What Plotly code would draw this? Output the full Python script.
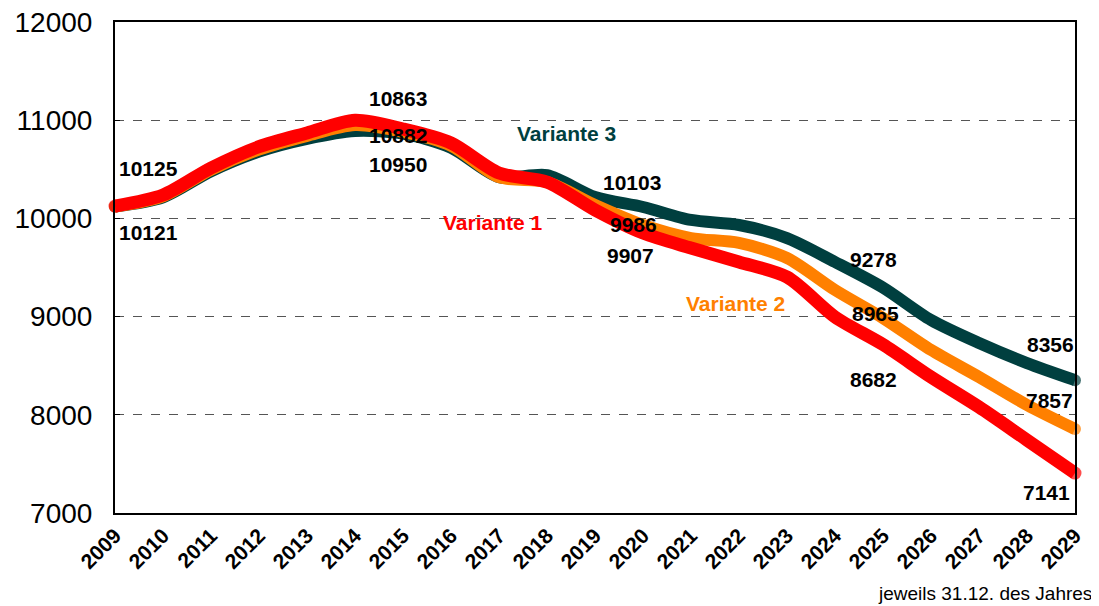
import plotly.graph_objects as go

years = list(range(2009, 2030))

variante_1 = [10126, 10238, 10513, 10730, 10870, 11000, 10910, 10768, 10462, 10370,
              10086, 9851, 9698, 9556, 9403, 8996, 8715, 8385, 8079, 7743, 7407]
variante_2 = [10121, 10225, 10495, 10700, 10840, 10950, 10880, 10740, 10420, 10370,
              10136, 9933, 9800, 9750, 9597, 9271, 8985, 8660, 8385, 8100, 7855]
variante_3 = [10121, 10215, 10480, 10680, 10810, 10890, 10863, 10720, 10420, 10440,
              10218, 10116, 9984, 9933, 9800, 9556, 9295, 8965, 8731, 8527, 8353]

y_ticks = [7000, 8000, 9000, 10000, 11000, 12000]
x_ticks = years

# value labels: (text, series, year, xshift, yshift)
value_labels = [
    ("10125", "v1", 2009, 33, 38), ("10121", "v1", 2009, 33, -26),
    ("10863", "v1", 2015, -5, 31), ("10882", "v1", 2015, -5, -6), ("10950", "v1", 2015, -5, -35),
    ("10103", "v3", 2020, -11, 25), ("9986", "v2", 2020, -10, 0), ("9907", "v1", 2020, -13, -22),
    ("9278", "v3", 2025, -10, 28), ("8965", "v2", 2025, -8, 5), ("8682", "v1", 2025, -10, -35),
    ("8356", "v3", 2029, -25, 36), ("7857", "v2", 2029, -26, 29), ("7141", "v1", 2029, -29, -19),
]

RED = "#FF0000"
ORANGE = "#FF8000"
TEAL = "#003F3F"
FONT = "Liberation Sans, Arial, sans-serif"

series = {"v1": variante_1, "v2": variante_2, "v3": variante_3}

# the page body adds an 8px offset; compensate so the plot lands where the reference has it
OFF = 8
W, H = 1099 - OFF, 606 - OFF
# plot area in page pixels (for placing free text)
L, R, T, B = 115, 1075, 22, 513


def px_to_paper(px, py):
    return (px - L) / (R - L), (B - py) / (B - T)


fig = go.Figure()
for key, name, color, w in [("v3", "Variante 3", TEAL, 12), ("v2", "Variante 2", ORANGE, 12),
                            ("v1", "Variante 1", RED, 13)]:
    vals = series[key]
    sizes = [w] + [0] * (len(vals) - 2) + [w]
    fig.add_trace(go.Scatter(
        x=years, y=vals, name=name, mode="lines+markers",
        line=dict(color=color, width=w, shape="spline", smoothing=0.8),
        marker=dict(size=sizes, color=color, line=dict(width=0)),
        cliponaxis=False, showlegend=False, hoverinfo="x+y",
    ))

annotations = []
for text, key, yr, dx, dy in value_labels:
    annotations.append(dict(
        x=yr, y=series[key][years.index(yr)], xref="x", yref="y",
        text=text, showarrow=False, xshift=dx, yshift=dy,
        font=dict(family=FONT, size=21, color="black", weight="bold"),
        xanchor="center", yanchor="middle",
    ))

for text, color, xp, yp in [("Variante 3", TEAL, 566, 134), ("Variante 1", RED, 493, 222),
                            ("Variante 2", ORANGE, 735, 303)]:
    px, py = px_to_paper(xp, yp)
    annotations.append(dict(
        x=px, y=py, xref="paper", yref="paper", text=text, showarrow=False,
        font=dict(family=FONT, size=21, color=color, weight="bold"),
        xanchor="center", yanchor="middle",
    ))

fx, fy = px_to_paper(1094, 593)
annotations.append(dict(
    x=fx, y=fy, xref="paper", yref="paper", text="jeweils 31.12. des Jahres", showarrow=False,
    xanchor="right", yanchor="middle",
    font=dict(family=FONT, size=19, color="black"),
))

fig.update_layout(
    width=W, height=H,
    margin=dict(l=L - OFF, r=W - (R - OFF), t=T - OFF, b=H - (B - OFF), autoexpand=False),
    paper_bgcolor="white", plot_bgcolor="white",
    annotations=annotations,
    xaxis=dict(
        range=[2009, 2029], tickvals=x_ticks, ticktext=[str(y) for y in x_ticks],
        tickangle=-45, showgrid=False, zeroline=False, automargin=False,
        showline=True, linecolor="black", linewidth=2, mirror=True,
        ticks="", ticklabeloverflow="allow",
        tickfont=dict(family=FONT, size=21, color="black", weight="bold"),
    ),
    yaxis=dict(
        range=[7000, 12000], tickvals=y_ticks, ticktext=[str(v) for v in y_ticks],
        showgrid=True, gridcolor="#555555", automargin=False,
        griddash="dash", gridwidth=1, zeroline=False,
        showline=True, linecolor="black", linewidth=2, mirror=True,
        ticks="inside", ticklen=5, tickcolor="black", ticklabelstandoff=15,
        ticklabeloverflow="allow",
        tickfont=dict(family=FONT, size=28, color="black"),
    ),
)

fig.write_html("out.html")
